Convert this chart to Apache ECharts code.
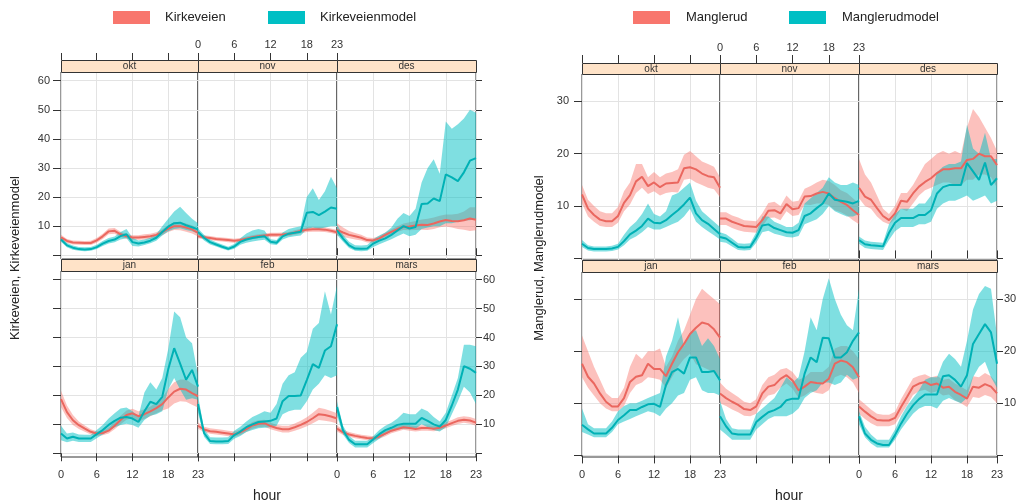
<!DOCTYPE html>
<html><head><meta charset="utf-8">
<script src="https://cdn.jsdelivr.net/npm/echarts@6/dist/echarts.min.js"></script>
<style>html,body{margin:0;padding:0;background:#fff}#c{width:1023px;height:504px}</style>
</head><body><div id="c"></div>
<script>
// ---------- categories / ticks ----------
const hours = [0,1,2,3,4,5,6,7,8,9,10,11,12,13,14,15,16,17,18,19,20,21,22,23];
const months = ['okt','nov','des','jan','feb','mars'];
const xTicks = [0,6,12,18,23];
const kirkYTicks = [0,10,20,30,40,50,60];
const kirkYLabels = [10,20,30,40,50,60];
const mangYTicks = [0,10,20,30];
const mangYLabels = [10,20,30];

// ---------- Kirkeveien (observed) ----------
const K_okt    = [6.1,4.9,4.4,4.3,4.2,4.2,5.1,6.5,8.2,8.4,7.2,6.5,6.1,6.1,6.3,6.5,7.0,7.9,9.1,10.0,10.0,9.5,8.9,7.7];
const K_okt_lo = [5.3,4.2,3.7,3.6,3.5,3.5,4.3,5.6,7.2,7.4,6.3,5.7,5.3,5.3,5.4,5.6,6.1,6.9,8.0,8.7,8.6,8.1,7.5,6.4];
const K_okt_hi = [7.0,5.6,5.1,5.0,4.9,5.0,5.9,7.4,9.2,9.4,8.1,7.3,6.9,6.9,7.2,7.4,7.9,8.9,10.3,11.3,11.4,10.9,10.3,9.0];
const K_nov    = [6.5,6.2,5.9,5.6,5.4,5.2,5.0,5.2,5.7,6.2,6.5,6.8,7.0,7.0,7.1,7.3,7.8,8.3,8.8,8.9,8.9,8.8,8.4,7.9];
const K_nov_lo = [5.8,5.5,5.2,4.9,4.7,4.5,4.3,4.5,5.0,5.5,5.8,6.1,6.3,6.3,6.4,6.6,7.0,7.5,8.0,8.1,8.1,8.0,7.6,7.1];
const K_nov_hi = [7.3,6.9,6.6,6.3,6.1,5.9,5.7,5.9,6.4,6.9,7.2,7.5,7.7,7.7,7.8,8.0,8.6,9.1,9.6,9.7,9.7,9.6,9.2,8.7];
const K_des    = [8.7,7.8,7.0,6.5,6.0,5.2,5.1,5.8,7.0,8.0,9.0,9.8,9.9,10.2,10.5,10.4,10.9,11.6,12.1,11.8,11.7,12.0,12.6,12.2];
const K_des_lo = [6.8,6.3,5.8,5.4,5.1,4.4,4.3,5.0,6.2,7.1,8.0,8.7,8.6,8.7,8.8,8.7,9.0,9.6,9.9,9.5,9.0,8.8,8.3,8.6];
const K_des_hi = [11.0,9.5,8.3,7.6,7.0,6.1,5.9,6.6,7.8,8.9,10.0,10.9,11.3,11.8,12.3,12.5,13.0,13.6,14.0,14.0,14.3,15.0,16.5,16.5];
const K_jan    = [18.7,14.2,11.4,9.7,8.5,7.4,6.8,7.0,7.8,9.5,11.5,13.2,13.8,12.8,13.5,14.5,15.6,17.0,19.3,21.3,22.3,22.0,20.8,19.7];
const K_jan_lo = [16.0,12.2,9.8,8.4,7.4,6.5,6.0,6.2,6.8,8.3,10.0,11.6,12.2,11.0,11.8,12.8,13.8,14.8,15.5,17.2,18.0,17.8,16.8,15.8];
const K_jan_hi = [21.6,16.5,13.2,11.0,9.6,8.3,7.6,7.9,8.9,10.8,13.0,14.8,15.4,14.5,15.2,16.2,17.5,19.3,22.2,24.5,25.5,25.5,24.0,22.8];
const K_feb    = [9.5,8.2,7.6,7.4,7.1,6.8,6.5,7.2,8.3,9.6,10.2,10.4,9.4,8.7,8.3,8.3,9.0,9.8,10.8,12.1,13.5,13.2,12.7,12.0];
const K_feb_lo = [8.5,7.3,6.7,6.5,6.2,5.9,5.6,6.3,7.3,8.5,9.0,9.2,8.3,7.7,7.2,7.2,7.8,8.5,9.3,10.4,11.5,11.2,10.9,10.3];
const K_feb_hi = [10.6,9.2,8.6,8.4,8.1,7.8,7.5,8.2,9.4,10.8,11.4,11.6,10.6,9.8,9.5,9.5,10.3,11.2,12.4,14.0,15.7,15.3,14.6,13.8];
const K_mar    = [8.5,7.2,6.5,6.0,5.6,5.3,5.1,5.8,6.8,7.8,8.4,9.0,8.7,8.4,8.7,8.7,8.5,8.8,9.6,10.4,11.2,11.6,11.3,10.6];
const K_mar_lo = [7.5,6.3,5.7,5.2,4.8,4.5,4.3,5.0,5.9,6.9,7.5,8.1,7.8,7.5,7.8,7.8,7.6,7.9,8.6,9.4,10.1,10.5,10.2,9.5];
const K_mar_hi = [9.6,8.1,7.3,6.8,6.4,6.1,5.9,6.6,7.7,8.8,9.4,10.0,9.7,9.4,9.7,9.7,9.5,9.8,10.7,11.5,12.4,12.8,12.5,11.8];

// ---------- Kirkeveienmodel ----------
const KM_okt    = [5.4,3.4,2.6,2.1,2.0,2.1,2.8,4.0,4.9,5.4,6.6,7.2,4.5,4.0,4.4,5.0,6.0,8.0,9.8,11.0,11.2,10.3,9.6,8.9];
const KM_okt_lo = [4.6,2.7,1.9,1.5,1.4,1.5,2.1,3.2,4.0,4.5,5.4,5.8,3.2,3.0,3.5,4.1,5.0,6.8,8.2,9.0,9.3,8.7,8.2,7.5];
const KM_okt_hi = [6.3,4.2,3.3,2.8,2.7,2.8,3.6,4.9,5.9,6.4,8.0,9.0,6.0,5.1,5.4,6.0,7.2,10.0,12.5,15.0,16.7,14.5,12.5,11.0];
const KM_nov    = [8.0,6.0,4.5,3.7,2.9,2.2,3.0,4.6,5.4,5.9,6.3,6.5,4.6,4.3,6.5,7.4,7.7,8.1,14.6,14.9,13.8,15.0,16.4,16.0];
const KM_nov_lo = [7.0,5.1,3.7,3.0,2.2,1.6,2.2,3.6,4.3,4.7,5.1,5.3,3.8,3.5,5.4,6.2,6.5,6.8,9.0,9.5,9.0,9.5,10.0,10.0];
const KM_nov_hi = [9.2,7.0,5.4,4.5,3.7,2.9,3.9,5.8,7.5,8.5,9.0,8.5,5.5,5.2,7.8,9.0,9.5,10.0,20.0,23.0,19.0,22.0,27.0,23.0];
const KM_des    = [8.6,5.7,3.4,2.3,2.2,2.3,4.0,5.0,5.8,7.0,8.5,10.0,9.2,9.7,17.6,17.8,19.5,18.6,27.8,26.8,25.5,28.5,32.5,33.4];
const KM_des_lo = [7.0,4.6,2.5,1.5,1.4,1.5,2.8,3.8,4.6,5.5,6.5,7.5,6.5,7.0,9.0,9.5,10.0,10.0,11.0,11.0,11.5,12.0,12.0,12.5];
const KM_des_hi = [10.5,7.0,4.6,3.4,3.3,3.5,5.5,6.8,7.8,9.5,12.5,14.5,13.5,16.0,25.0,30.0,33.0,28.0,46.0,43.5,45.0,47.0,50.0,49.0];
const KM_jan    = [6.8,5.1,5.7,5.1,5.1,5.1,6.6,8.0,9.8,11.2,12.3,12.5,12.0,10.8,14.5,17.8,17.0,19.5,29.0,36.3,31.0,25.4,28.8,23.0];
const KM_jan_lo = [4.5,3.8,4.3,3.9,3.9,3.9,5.2,6.5,7.8,9.0,9.8,10.2,9.8,8.8,11.5,13.0,13.5,14.5,22.0,26.0,22.0,18.5,19.0,18.5];
const KM_jan_hi = [9.5,6.8,7.2,6.5,6.4,6.4,8.0,9.8,12.0,13.8,15.5,15.8,14.5,12.8,21.0,24.5,22.0,26.0,36.0,49.0,47.0,40.0,38.0,27.0];
const KM_feb    = [17.0,7.0,4.2,4.1,4.1,4.2,6.3,7.5,9.0,10.0,10.8,11.0,11.2,12.0,18.0,19.8,19.8,20.0,25.3,30.8,29.5,35.5,37.0,44.6];
const KM_feb_lo = [14.0,5.7,3.2,3.1,3.1,3.2,5.0,6.0,7.3,8.0,8.6,8.8,9.0,9.5,13.5,14.5,15.0,15.0,18.0,22.0,24.0,27.0,26.0,27.0];
const KM_feb_hi = [20.0,8.5,5.5,5.4,5.4,5.5,7.8,9.2,11.0,12.5,13.5,14.5,14.0,17.0,24.0,27.0,28.0,33.0,35.0,43.0,45.0,56.0,48.0,58.0];
const KM_mar    = [16.0,7.9,4.6,3.1,3.1,3.1,4.8,6.6,8.0,8.8,9.8,10.2,10.2,10.2,12.2,11.2,10.0,9.2,11.5,16.5,22.0,30.1,29.2,27.8];
const KM_mar_lo = [13.0,6.5,3.5,2.0,2.0,2.0,3.5,5.0,6.5,7.5,8.3,8.5,8.5,8.5,10.0,9.0,8.0,7.5,9.0,13.5,18.0,23.0,21.0,17.0];
const KM_mar_hi = [18.0,9.5,6.0,4.3,4.3,4.3,6.0,8.0,9.5,10.5,12.0,14.0,13.5,13.5,15.5,14.5,12.5,11.0,14.0,20.0,26.0,37.5,37.5,37.0];

// ---------- Manglerud (observed) ----------
const M_okt    = [12.2,9.5,8.3,7.4,7.1,7.1,8.1,10.6,12.1,14.7,15.6,13.8,14.5,13.6,14.3,14.4,14.5,17.2,17.4,17.0,16.2,15.7,15.5,13.5];
const M_okt_lo = [10.5,8.0,7.0,6.2,6.0,6.0,6.8,9.0,10.3,12.5,13.5,12.3,12.8,12.0,12.5,12.7,12.6,15.0,15.2,14.5,14.0,13.5,13.2,11.7];
const M_okt_hi = [14.0,11.2,10.0,9.0,8.6,8.6,9.8,12.8,14.5,18.0,18.0,15.5,16.5,15.5,16.2,16.5,17.0,19.8,20.5,19.5,18.5,18.0,17.5,15.5];
const M_nov    = [7.6,7.6,7.0,6.6,6.2,6.1,6.0,7.3,9.1,9.2,8.6,10.4,9.4,9.6,11.8,11.9,12.4,12.7,12.4,11.5,10.8,10.2,9.2,8.3];
const M_nov_lo = [6.4,6.4,5.8,5.4,5.1,5.0,4.9,6.1,7.7,7.8,7.3,9.0,8.1,8.3,10.3,10.2,10.5,10.5,10.2,9.2,8.8,8.2,7.3,6.5];
const M_nov_hi = [8.8,8.8,8.2,7.8,7.3,7.2,7.1,8.6,10.6,10.8,10.0,12.0,10.8,11.0,13.3,13.8,14.5,15.0,14.8,14.0,13.0,12.5,11.5,10.5];
const M_des    = [13.5,11.8,11.2,9.6,8.1,7.3,8.6,11.0,10.8,12.4,13.7,14.6,15.3,16.3,17.0,17.0,17.2,17.2,18.8,19.0,20.0,19.5,19.5,17.8];
const M_des_lo = [11.5,10.0,9.5,8.0,7.0,6.5,7.5,9.5,9.0,10.5,12.0,13.0,13.5,14.0,14.5,14.5,14.0,14.0,15.0,15.0,16.0,16.0,15.5,13.5];
const M_des_hi = [19.0,16.0,14.5,12.0,9.5,8.5,10.0,12.5,12.5,14.0,16.0,18.0,19.0,20.0,20.5,20.0,20.5,20.0,25.0,28.5,27.0,25.0,23.0,20.5];
const M_jan    = [17.6,15.1,13.8,11.9,10.3,9.4,9.4,11.0,14.1,15.1,15.4,17.6,16.6,16.6,15.2,17.6,19.8,21.4,23.3,24.5,25.5,25.2,24.2,22.6];
const M_jan_lo = [15.0,13.0,11.5,10.0,9.0,8.5,8.5,9.5,12.0,13.5,14.0,15.0,14.8,14.5,13.0,15.0,17.0,18.5,19.5,17.5,17.0,16.5,16.0,15.0];
const M_jan_hi = [23.0,20.0,17.0,14.5,12.0,11.0,11.0,13.0,17.0,19.5,18.5,20.0,20.0,20.5,17.0,19.0,22.0,24.0,27.0,30.0,32.0,31.0,30.0,29.0];
const M_feb    = [11.9,11.0,10.3,9.7,8.9,8.7,9.4,11.9,13.2,13.5,14.7,15.4,14.4,12.5,13.2,14.1,13.9,13.8,14.7,17.6,18.2,17.9,16.9,15.0];
const M_feb_lo = [10.0,9.5,8.8,8.3,7.6,7.5,8.0,10.3,11.5,11.8,13.0,13.8,12.8,11.0,11.5,12.3,12.0,11.8,12.5,15.0,15.5,15.0,14.0,12.0];
const M_feb_hi = [14.0,12.8,12.0,11.2,10.3,10.0,10.8,13.5,15.0,15.5,16.5,16.8,16.0,14.5,15.0,16.0,16.0,16.0,17.0,20.5,21.0,21.0,20.0,18.5];
const M_mar    = [9.4,8.4,7.5,6.8,6.7,6.7,7.2,9.3,11.2,13.2,13.8,14.1,13.5,13.8,13.0,13.2,12.2,11.6,10.9,13.2,13.0,13.7,13.2,11.9];
const M_mar_lo = [8.0,7.0,6.2,5.6,5.6,5.6,6.0,7.8,9.6,11.6,12.3,12.6,12.0,12.3,11.5,11.7,10.6,10.0,9.3,11.2,11.0,11.6,11.2,10.0];
const M_mar_hi = [10.8,9.8,8.8,8.0,7.8,7.8,8.4,10.8,12.8,14.8,15.3,15.6,15.0,15.3,14.5,14.7,13.8,13.2,12.5,15.2,15.0,15.8,15.2,13.8];

// ---------- Manglerudmodel ----------
const MM_okt    = [2.8,2.0,1.8,1.8,1.8,1.9,2.2,3.3,4.6,5.3,6.2,7.6,6.8,6.7,7.3,8.3,9.2,10.3,11.6,8.6,7.3,6.6,5.6,4.6];
const MM_okt_lo = [2.2,1.5,1.3,1.3,1.3,1.4,1.7,2.5,3.6,4.2,5.0,6.0,5.5,5.5,6.0,6.5,7.0,8.0,9.5,7.0,6.0,5.2,4.4,3.6];
const MM_okt_hi = [3.5,2.5,2.3,2.3,2.3,2.4,2.8,4.5,6.0,7.0,8.5,10.5,8.5,8.0,9.0,12.0,12.5,13.5,14.5,11.0,9.0,8.0,7.0,6.0];
const MM_nov    = [4.1,3.8,3.0,2.2,2.1,2.2,4.0,6.3,6.5,5.8,5.4,5.0,4.9,5.4,8.1,8.6,9.6,10.5,12.4,11.2,11.0,10.8,10.5,11.0];
const MM_nov_lo = [3.2,3.0,2.3,1.6,1.5,1.6,3.0,5.0,5.3,4.7,4.4,4.1,4.0,4.3,6.5,7.0,7.5,8.5,10.0,9.0,8.5,8.0,8.0,8.5];
const MM_nov_hi = [5.0,4.6,3.8,2.9,2.8,2.9,5.0,8.0,8.0,7.0,6.5,6.0,6.0,6.8,10.5,11.5,12.5,13.5,15.5,14.5,14.0,14.0,14.5,14.0];
const MM_des    = [3.5,2.7,2.5,2.4,2.3,4.9,6.8,7.7,7.7,7.7,8.3,8.3,9.2,12.4,13.6,14.0,14.0,14.0,18.2,16.6,15.0,18.3,14.0,15.3];
const MM_des_lo = [2.8,2.0,1.8,1.7,1.6,3.5,5.2,6.0,6.0,6.0,6.5,6.5,7.0,9.5,10.5,11.0,11.0,11.5,12.0,11.0,11.5,12.0,10.5,11.0];
const MM_des_hi = [4.2,3.4,3.2,3.1,3.0,6.5,8.5,9.5,9.5,9.5,10.5,10.5,12.0,16.5,17.5,18.0,18.0,18.5,25.5,21.0,20.0,24.0,19.0,19.0];
const MM_jan    = [5.9,5.0,4.2,4.2,4.2,5.3,6.8,7.7,8.7,8.7,9.3,9.8,9.9,9.3,13.5,16.0,16.6,15.7,18.8,18.8,16.0,16.0,16.2,14.4];
const MM_jan_lo = [4.5,4.0,3.5,3.5,3.5,4.5,6.0,6.5,7.0,7.5,8.0,8.5,8.2,7.5,9.0,10.0,11.5,12.0,14.5,15.0,12.5,12.0,12.0,11.5];
const MM_jan_hi = [9.0,6.0,5.2,5.2,5.2,6.5,8.5,9.5,10.0,10.0,10.5,11.0,11.5,12.0,19.0,22.0,26.5,21.0,23.5,24.0,21.0,22.5,21.0,18.5];
const MM_feb    = [7.5,5.6,4.2,4.0,4.0,4.0,6.4,7.4,8.3,8.7,9.3,10.6,10.9,10.9,15.7,18.8,17.9,22.6,22.5,18.8,18.8,19.8,22.0,23.6];
const MM_feb_lo = [5.0,4.0,3.0,3.0,3.0,3.0,5.0,6.0,7.0,7.5,7.5,7.5,8.0,9.0,11.0,12.0,12.5,14.0,14.0,13.5,14.0,15.5,14.5,15.0];
const MM_feb_hi = [10.5,7.0,5.2,5.0,5.0,5.0,8.0,9.0,10.0,11.0,13.0,15.0,14.0,15.0,20.0,26.5,24.0,30.0,34.0,30.0,27.0,25.0,24.0,32.0];
const MM_mar    = [7.5,4.2,3.0,2.3,2.0,2.0,3.9,6.1,8.0,9.6,10.8,11.7,11.7,11.7,15.2,15.4,14.5,13.2,15.4,21.4,23.3,25.2,23.6,17.6];
const MM_mar_lo = [6.0,3.5,2.3,1.5,1.5,1.5,3.0,5.0,6.5,8.0,9.0,9.5,9.5,9.0,10.5,11.0,10.5,10.0,11.0,15.0,17.0,18.0,15.0,13.0];
const MM_mar_hi = [8.5,5.5,4.0,3.0,3.0,3.0,5.0,7.5,9.5,11.0,12.5,14.5,15.0,15.0,18.0,19.5,18.5,17.0,22.0,28.0,31.0,32.5,32.0,23.0];

// ---------- assembly ----------
const FONT = '"Liberation Sans", Arial, sans-serif';
const OBS_FILL = 'rgba(248,118,109,0.45)', MOD_FILL = 'rgba(0,191,196,0.5)';
const OBS_LINE = '#EA675F', MOD_LINE = '#00B1B5';
const OBS_KEY = '#F8766D', MOD_KEY = '#00BFC4';

const charts = [
  { names: ['Kirkeveien','Kirkeveienmodel'], ytitle: 'Kirkeveien, Kirkeveienmodel',
    obs: [[K_okt,K_okt_lo,K_okt_hi],[K_nov,K_nov_lo,K_nov_hi],[K_des,K_des_lo,K_des_hi],[K_jan,K_jan_lo,K_jan_hi],[K_feb,K_feb_lo,K_feb_hi],[K_mar,K_mar_lo,K_mar_hi]],
    mod: [[KM_okt,KM_okt_lo,KM_okt_hi],[KM_nov,KM_nov_lo,KM_nov_hi],[KM_des,KM_des_lo,KM_des_hi],[KM_jan,KM_jan_lo,KM_jan_hi],[KM_feb,KM_feb_lo,KM_feb_hi],[KM_mar,KM_mar_lo,KM_mar_hi]],
    yTicks: kirkYTicks, yLabels: kirkYLabels },
  { names: ['Manglerud','Manglerudmodel'], ytitle: 'Manglerud, Manglerudmodel',
    obs: [[M_okt,M_okt_lo,M_okt_hi],[M_nov,M_nov_lo,M_nov_hi],[M_des,M_des_lo,M_des_hi],[M_jan,M_jan_lo,M_jan_hi],[M_feb,M_feb_lo,M_feb_hi],[M_mar,M_mar_lo,M_mar_hi]],
    mod: [[MM_okt,MM_okt_lo,MM_okt_hi],[MM_nov,MM_nov_lo,MM_nov_hi],[MM_des,MM_des_lo,MM_des_hi],[MM_jan,MM_jan_lo,MM_jan_hi],[MM_feb,MM_feb_lo,MM_feb_hi],[MM_mar,MM_mar_lo,MM_mar_hi]],
    yTicks: mangYTicks, yLabels: mangYLabels }
];

const layouts = [
  { cols: [[61,198],[198,337],[337,476]], rows: [[72,259],[271,457]], strips: [[60,72],[259,271]],
    yMin: -1.3, yMax: 63, leftTick: 8, leftMargin: 11, rightTick: 6, rightMargin: 7,
    topTick: 7, topMargin: 10, bottomTick: 8, bottomMargin: 12,
    title: [15, 258], hour: [267, 496], legend: [[113,165],[268,320]] },
  { cols: [[582,720],[720,859],[859,997]], rows: [[74,260],[272,457]], strips: [[63,74],[260,272]],
    yMin: -0.3, yMax: 35.2, leftTick: 8, leftMargin: 13, rightTick: 6, rightMargin: 7,
    topTick: 8, topMargin: 10, bottomTick: 8, bottomMargin: 12,
    title: [539, 258], hour: [789, 496], legend: [[633,686],[789,842]] }
];

const isTick = (idx) => xTicks.indexOf(idx) >= 0;
const grids = [], xAxes = [], yAxes = [], series = [], graphics = [], legends = [];
const tickLine = { color: '#333', width: 1 };
const labelStyle = { fontSize: 11, color: '#333', fontFamily: FONT };

charts.forEach((ch, ci) => {
  const L = layouts[ci];
  months.forEach((m, mi) => {
    const r = mi < 3 ? 0 : 1, k = mi % 3;
    const [x0, x1] = L.cols[k], [y0, y1] = L.rows[r];
    const gi = grids.length;
    grids.push({ left: x0, top: y0, width: x1 - x0, height: y1 - y0, show: true,
      borderColor: '#333', borderWidth: 1, backgroundColor: 'transparent', containLabel: false });
    const xi = xAxes.length;
    xAxes.push({ gridIndex: gi, type: 'category', data: hours, boundaryGap: false, position: 'bottom',
      axisLine: { show: false },
      axisTick: { show: r === 1, inside: false, length: L.bottomTick, interval: isTick, lineStyle: tickLine },
      axisLabel: { show: r === 1 && k !== 1, interval: isTick, margin: L.bottomMargin, ...labelStyle },
      splitLine: { show: true, interval: isTick, lineStyle: { color: '#e3e3e3', width: 1 } } });
    if (r === 0) {
      xAxes.push({ gridIndex: gi, type: 'category', data: hours, boundaryGap: false, position: 'top',
        offset: L.strips[0][1] - L.strips[0][0],
        axisLine: { show: false },
        axisTick: { show: true, inside: false, length: L.topTick, interval: isTick, lineStyle: tickLine },
        axisLabel: { show: k === 1, interval: isTick, margin: L.topMargin, ...labelStyle },
        splitLine: { show: false } });
    }
    const yi = yAxes.length;
    yAxes.push({ gridIndex: gi, type: 'value', min: L.yMin, max: L.yMax, position: 'left',
      axisLine: { show: false },
      axisTick: { show: k === 0, inside: false, length: L.leftTick, customValues: ch.yTicks, lineStyle: tickLine },
      axisLabel: { show: k === 0 && r === 0, customValues: ch.yLabels, margin: L.leftMargin, ...labelStyle },
      splitLine: { show: true, lineStyle: { color: '#e3e3e3', width: 1 } } });
    if (k === 2) {
      yAxes.push({ gridIndex: gi, type: 'value', min: L.yMin, max: L.yMax, position: 'right',
        axisLine: { show: false },
        axisTick: { show: true, inside: false, length: L.rightTick, customValues: ch.yTicks, lineStyle: tickLine },
        axisLabel: { show: r === 1, customValues: ch.yLabels, margin: L.rightMargin, ...labelStyle },
        splitLine: { show: false } });
    }
    [[ch.obs[mi], OBS_FILL, OBS_LINE, OBS_KEY, ch.names[0]], [ch.mod[mi], MOD_FILL, MOD_LINE, MOD_KEY, ch.names[1]]]
      .forEach(([arr, fill, lineCol, keyCol, name], si) => {
        const [mean, lo, hi] = arr;
        const stack = 's' + gi + '_' + si;
        series.push({ type: 'line', xAxisIndex: xi, yAxisIndex: yi, stack, silent: true,
          symbol: 'none', lineStyle: { opacity: 0, width: 0 }, emphasis: { disabled: true },
          data: lo.slice(), z: 2 });
        series.push({ type: 'line', xAxisIndex: xi, yAxisIndex: yi, stack, silent: true,
          symbol: 'none', lineStyle: { opacity: 0, width: 0 }, areaStyle: { color: fill, opacity: 1 },
          emphasis: { disabled: true }, data: hi.map((v, i) => +(v - lo[i]).toFixed(2)), z: 2 });
        series.push({ type: 'line', name, xAxisIndex: xi, yAxisIndex: yi, silent: true,
          symbol: 'none', showSymbol: false, lineStyle: { color: lineCol, width: 2 },
          itemStyle: { color: keyCol }, emphasis: { disabled: true },
          data: mean.slice(), z: 3 });
      });
    const [s0, s1] = L.strips[r];
    graphics.push({ type: 'rect', silent: true, z: 10,
      shape: { x: x0 + 0.5, y: s0 + 0.5, width: x1 - x0, height: s1 - s0 },
      style: { fill: '#FFE3C8', stroke: '#333', lineWidth: 1 } });
    graphics.push({ type: 'text', silent: true, z: 11, x: (x0 + x1) / 2, y: (s0 + s1) / 2 + 0.5,
      style: { text: m, fontSize: 10, fontFamily: FONT, fill: '#333', align: 'center', verticalAlign: 'middle' } });
  });
  graphics.push({ type: 'text', silent: true, x: L.title[0], y: L.title[1], rotation: Math.PI / 2,
    style: { text: ch.ytitle, fontSize: 13, fontFamily: FONT, fill: '#222', align: 'center', verticalAlign: 'middle' } });
  graphics.push({ type: 'text', silent: true, x: L.hour[0], y: L.hour[1],
    style: { text: 'hour', fontSize: 14, fontFamily: FONT, fill: '#222', align: 'center', verticalAlign: 'middle' } });
  ch.names.forEach((nm, ni) => {
    const [sx, tx] = L.legend[ni];
    legends.push({ data: [nm], left: sx, top: 11, icon: 'rect', itemWidth: 37, itemHeight: 13,
      selectedMode: false, padding: 0,
      textStyle: { fontSize: 13, fontFamily: FONT, color: '#222', padding: [0, 0, 0, tx - sx - 42] } });
  });
});

const chart = echarts.init(document.getElementById('c'), null, { renderer: 'canvas' });
chart.setOption({
  animation: false,
  backgroundColor: '#fff',
  textStyle: { fontFamily: FONT },
  legend: legends,
  grid: grids,
  xAxis: xAxes,
  yAxis: yAxes,
  series,
  graphic: graphics
});
</script>
</body></html>
